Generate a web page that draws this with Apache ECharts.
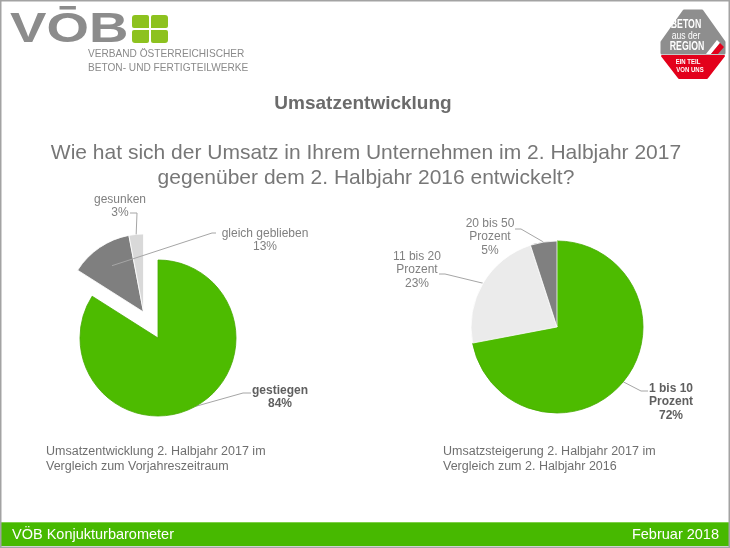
<!DOCTYPE html>
<html><head><meta charset="utf-8">
<script src="https://cdn.jsdelivr.net/npm/echarts@6/dist/echarts.min.js"></script>
<style>html,body{margin:0;padding:0;background:#fff}#c{width:730px;height:548px}</style>
</head><body><div id="c"></div>
<script>
// ---- data ----
const leftCategories = ['gestiegen', 'gleich geblieben', 'gesunken'];
const leftValues = [84, 13, 3];
const leftExploded = [false, true, true];
const rightCategories = ['1 bis 10\nProzent', '11 bis 20\nProzent', '20 bis 50\nProzent'];
const rightValues = [72, 23, 5];

const titleText = 'Umsatzentwicklung';
const questionLines = ['Wie hat sich der Umsatz in Ihrem Unternehmen im 2. Halbjahr 2017', 'gegenüber dem 2. Halbjahr 2016 entwickelt?'];
const leftCaption = ['Umsatzentwicklung 2. Halbjahr 2017 im', 'Vergleich zum Vorjahreszeitraum'];
const rightCaption = ['Umsatzsteigerung 2. Halbjahr 2017 im', 'Vergleich zum 2. Halbjahr 2016'];
const footerLeft = 'VÖB Konjukturbarometer';
const footerRight = 'Februar 2018';
const logoSubtitle = ['VERBAND ÖSTERREICHISCHER', 'BETON- UND FERTIGTEILWERKE'];
const badgeTop = ['BETON', 'aus der', 'REGION'];
const badgeBottom = ['EIN TEIL', 'VON UNS'];

// ---- styles ----
const FONT = '"Liberation Sans", Arial, Helvetica, sans-serif';
const GREEN = '#4dbb00';
const leftColors = [GREEN, '#7f7f7f', '#d9d9d9'];
const rightColors = [GREEN, '#ebebeb', '#808080'];
const borderColors = ['#45a900', '#ffffff', '#ffffff'];

// label placement (layout only)
const labelPlace = {
  '0-0': {x: 280, y: 397, ax: 251, ay: 393, bend: -8},
  '3-1': {x: 265, y: 240, ax: 216, ay: 233, bend: -4, inset: 22},
  '3-2': {x: 120, y: 206, ax: 130, ay: 213, bend: 7},
  '2-0': {x: 671, y: 402, ax: 648, ay: 391, bend: -7},
  '2-1': {x: 417, y: 270, ax: 439, ay: 274, bend: 6},
  '2-2': {x: 490, y: 237, ax: 515, ay: 229, bend: 6}
};
function placeLabel(p) {
  const c = labelPlace[p.seriesIndex + '-' + p.dataIndex];
  if (!c || !p.labelLinePoints) return {};
  const s = p.labelLinePoints[0], r = p.labelLinePoints[1];
  let start = s;
  if (c.inset) {
    const dx = r[0] - s[0], dy = r[1] - s[1], L = Math.hypot(dx, dy) || 1;
    start = [s[0] - dx / L * c.inset, s[1] - dy / L * c.inset];
  }
  return {x: c.x, y: c.y, align: 'center', verticalAlign: 'middle',
    labelLinePoints: [start, [c.ax + c.bend, c.ay], [c.ax, c.ay]]};
}

// fillMask: which slices are painted; labelMask: which slices get labels
function makeData(cats, vals, colors, fillMask, labelMask, boldIdx) {
  return cats.map((n, i) => ({
    name: n, value: vals[i],
    itemStyle: {
      color: fillMask[i] ? colors[i] : 'rgba(0,0,0,0)',
      borderColor: borderColors[i],
      borderWidth: fillMask[i] ? 0.8 : 0
    },
    label: Object.assign({show: labelMask[i]}, i === boldIdx ? {fontWeight: 'bold', color: '#5f5f5f'} : {}),
    labelLine: {show: labelMask[i]}
  }));
}

const pieBase = {
  type: 'pie', startAngle: 90, clockwise: true, avoidLabelOverlap: false, silent: true,
  animation: false, emphasis: {disabled: true},
  label: {show: true, position: 'outside', formatter: '{b}\n{c}%', fontSize: 12, lineHeight: 13.5,
    color: '#808080', fontFamily: FONT, align: 'center'},
  labelLine: {show: true, length: 10, length2: 6, lineStyle: {color: '#a6a6a6', width: 1}},
  labelLayout: placeLabel
};

const none = leftValues.map(() => false);
const mainMask = leftExploded.map(e => !e);
const series = [
  Object.assign({}, pieBase, {center: [158, 338], radius: 78, z: 2,
    data: makeData(leftCategories, leftValues, leftColors, mainMask, mainMask, 0)}),
  Object.assign({}, pieBase, {center: [143.5, 312], radius: 78, z: 2,
    data: makeData(leftCategories, leftValues, leftColors, leftExploded, none, -1)}),
  Object.assign({}, pieBase, {center: [557, 327], radius: 86, z: 2,
    data: makeData(rightCategories, rightValues, rightColors, rightValues.map(() => true),
      rightValues.map(() => true), 0)}),
  Object.assign({}, pieBase, {center: [143.5, 312], radius: 78, z: 4,
    data: makeData(leftCategories, leftValues, leftColors, none, leftExploded, -1)})
];

function txt(x, y, text, o) {
  return {type: 'text', x: x, y: y, scaleX: o.scaleX || 1, z: o.z || 10,
    style: {text: text, fontFamily: FONT, fontSize: o.size, fontWeight: o.weight || 'normal',
      fill: o.fill, align: o.align || 'left', verticalAlign: 'middle'}};
}

const graphic = [
  // footer
  {type: 'rect', shape: {x: 1, y: 523, width: 728, height: 23}, style: {fill: '#47b900'}},
  {type: 'rect', shape: {x: 1, y: 522, width: 728, height: 1}, style: {fill: '#7fd04a'}},
  txt(12, 535, footerLeft, {size: 14.5, fill: '#ffffff'}),
  txt(719, 535, footerRight, {size: 14.5, fill: '#ffffff', align: 'right'}),
  // title & question
  txt(363, 104, titleText, {size: 19, weight: 'bold', fill: '#6b6b6b', align: 'center'}),
  txt(366, 153, questionLines[0], {size: 21, fill: '#777777', align: 'center'}),
  txt(366, 178, questionLines[1], {size: 21, fill: '#777777', align: 'center'}),
  // captions
  txt(46, 452, leftCaption[0], {size: 12.5, fill: '#6f6f6f'}),
  txt(46, 467, leftCaption[1], {size: 12.5, fill: '#6f6f6f'}),
  txt(443, 452, rightCaption[0], {size: 12.5, fill: '#6f6f6f'}),
  txt(443, 467, rightCaption[1], {size: 12.5, fill: '#6f6f6f'}),
  // VÖB logo
  txt(10, 30, 'VŌB', {size: 42, weight: 'bold', fill: '#8c8c8c', scaleX: 1.3}),
  {type: 'rect', shape: {x: 132, y: 15, width: 17, height: 13, r: [3, 2, 0, 2]}, style: {fill: '#8dc21f'}},
  {type: 'rect', shape: {x: 151, y: 15, width: 17, height: 13, r: [2, 3, 2, 0]}, style: {fill: '#8dc21f'}},
  {type: 'rect', shape: {x: 132, y: 30, width: 17, height: 13, r: [2, 0, 2, 3]}, style: {fill: '#8dc21f'}},
  {type: 'rect', shape: {x: 151, y: 30, width: 17, height: 13, r: [0, 2, 3, 2]}, style: {fill: '#8dc21f'}},
  txt(88, 54, logoSubtitle[0], {size: 11, fill: '#8a8a8a', scaleX: 0.92}),
  txt(88, 68, logoSubtitle[1], {size: 11, fill: '#8a8a8a', scaleX: 0.92}),
  // badge
  {type: 'polygon', shape: {points: [[662, 53], [662, 42], [684, 11], [702, 11], [724, 42], [724, 53]]},
    style: {fill: '#8e8e8e', stroke: '#8e8e8e', lineWidth: 3, lineJoin: 'round'}},
  {type: 'polygon', shape: {points: [[662, 56], [724, 56], [707, 78], [679, 78]]},
    style: {fill: '#e3001b', stroke: '#e3001b', lineWidth: 2, lineJoin: 'round'}},
  {type: 'polygon', shape: {points: [[706, 54], [717, 40], [720, 43], [711, 54]]}, style: {fill: '#ffffff'}},
  {type: 'polygon', shape: {points: [[711, 54], [720, 43], [724, 47], [718, 54]]}, style: {fill: '#e3001b'}},
  txt(686, 25, badgeTop[0], {size: 12.5, weight: 'bold', fill: '#ffffff', align: 'center', scaleX: 0.7, z: 12}),
  txt(686, 36, badgeTop[1], {size: 11, fill: '#ffffff', align: 'center', scaleX: 0.78, z: 12}),
  txt(687, 47, badgeTop[2], {size: 12.5, weight: 'bold', fill: '#ffffff', align: 'center', scaleX: 0.7, z: 12}),
  txt(688, 62, badgeBottom[0], {size: 8, weight: 'bold', fill: '#ffffff', align: 'center', scaleX: 0.75, z: 12}),
  txt(690, 70, badgeBottom[1], {size: 8, weight: 'bold', fill: '#ffffff', align: 'center', scaleX: 0.75, z: 12}),
  // border
  {type: 'rect', z: 100, shape: {x: 0.75, y: 0.75, width: 728.5, height: 546.5},
    style: {fill: 'none', stroke: '#a3a3a3', lineWidth: 1.5}}
];

const chart = echarts.init(document.getElementById('c'), null, {renderer: 'canvas'});
chart.setOption({animation: false, backgroundColor: '#ffffff', series: series, graphic: graphic});
</script>
</body></html>
